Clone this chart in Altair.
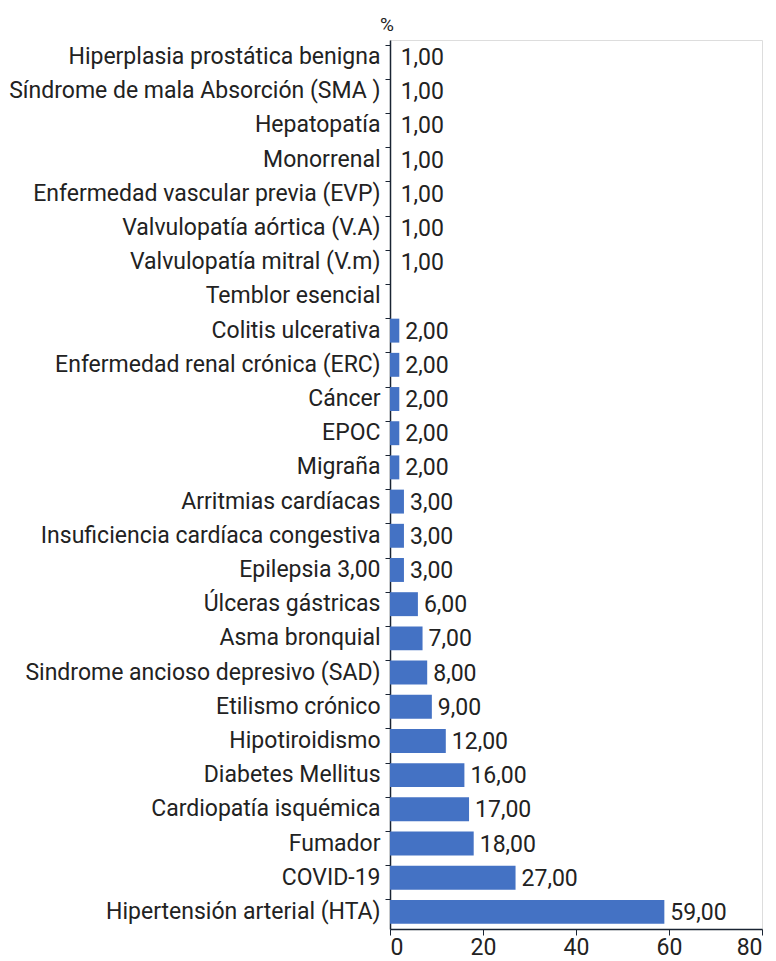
import altair as alt
import pandas as pd

categories = [
    "Hiperplasia prostática benigna",
    "Síndrome de mala Absorción (SMA )",
    "Hepatopatía",
    "Monorrenal",
    "Enfermedad vascular previa (EVP)",
    "Valvulopatía aórtica (V.A)",
    "Valvulopatía mitral (V.m)",
    "Temblor esencial",
    "Colitis ulcerativa",
    "Enfermedad renal crónica (ERC)",
    "Cáncer",
    "EPOC",
    "Migraña",
    "Arritmias cardíacas",
    "Insuficiencia cardíaca congestiva",
    "Epilepsia 3,00",
    "Úlceras gástricas",
    "Asma bronquial",
    "Sindrome ancioso depresivo (SAD)",
    "Etilismo crónico",
    "Hipotiroidismo",
    "Diabetes Mellitus",
    "Cardiopatía isquémica",
    "Fumador",
    "COVID-19",
    "Hipertensión arterial (HTA)",
]
values = [1, 1, 1, 1, 1, 1, 1, 1, 2, 2, 2, 2, 2, 3, 3, 3, 6, 7, 8, 9, 12, 16, 17, 18, 27, 59]
# bar lengths as drawn in the picture (the 1,00 rows show no visible bar)
bar_lengths = [0, 0, 0, 0, 0, 0, 0, 0, 2, 2, 2, 2, 2, 3, 3, 3, 6, 7, 8, 9, 12, 16, 17, 18, 27, 59]
value_labels = ["1,00", "1,00", "1,00", "1,00", "1,00", "1,00", "1,00", "",
                "2,00", "2,00", "2,00", "2,00", "2,00", "3,00", "3,00", "3,00",
                "6,00", "7,00", "8,00", "9,00", "12,00", "16,00", "17,00", "18,00",
                "27,00", "59,00"]
x_ticks = [0, 20, 40, 60, 80]

df = pd.DataFrame({
    "cat": categories,
    "value": values,
    "bar": bar_lengths,
    "label": value_labels,
})

FONT = "Roboto"
TXT = "#222222"
AXC = "#1a2433"

y_enc = alt.Y(
    "cat:N",
    sort=categories,
    title=None,
    scale=alt.Scale(paddingInner=0.3, paddingOuter=0.15),
    axis=alt.Axis(
        bandPosition=0,
        labelFont=FONT,
        labelFontSize=23,
        labelColor=TXT,
        labelPadding=5,
        tickSize=5,
        tickColor=AXC,
        domainColor=AXC,
        domainWidth=1.5,
        labelLimit=420,
    ),
)

x_scale = alt.Scale(domain=[0, 80], nice=False, zero=True)

bars = alt.Chart(df).mark_bar(color="#4472c4").encode(
    x=alt.X(
        "bar:Q",
        scale=x_scale,
        title=None,
        axis=alt.Axis(
            values=x_ticks,
            grid=False,
            labelFont=FONT,
            labelFontSize=23,
            labelColor=TXT,
            tickSize=6,
            tickColor=AXC,
            domainColor=AXC,
            domainWidth=1.5,
            labelPadding=1,
        ),
    ),
    y=y_enc,
)

labels = alt.Chart(df).mark_text(
    align="left", baseline="middle", dx=6, dy=1, font=FONT, fontSize=23, color=TXT
).encode(
    x=alt.X("value:Q", scale=x_scale),
    y=alt.Y("cat:N", sort=categories),
    text="label:N",
)

pct = alt.Chart(pd.DataFrame({"t": ["%"]})).mark_text(
    font=FONT, fontSize=19, color=TXT, baseline="bottom", align="center"
).encode(
    x=alt.value(-3),
    y=alt.value(-5),
    text="t:N",
)

chart = alt.layer(bars, labels, pct).properties(
    width=372,
    height=889,
    autosize=alt.AutoSizeParams(type="none"),
    padding={"left": 390, "top": 40, "right": 14, "bottom": 32},
).configure_view(stroke=None).configure(background="white")

chart.save("out.html", embed_options={"renderer": "svg", "actions": False})
